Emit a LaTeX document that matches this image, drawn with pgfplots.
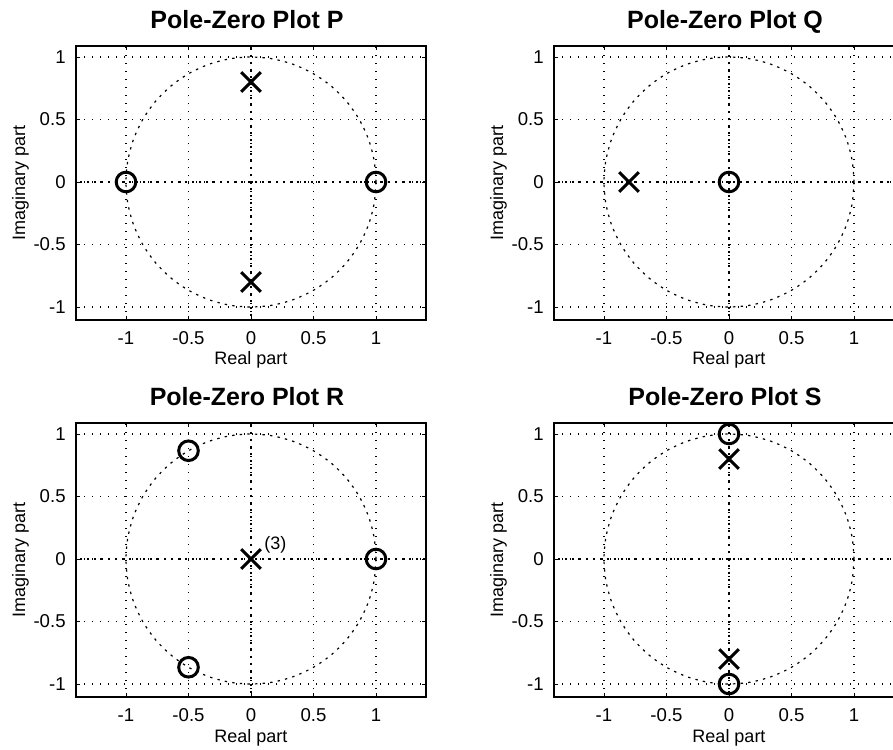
\documentclass[border=0pt]{standalone}
\usepackage{fontspec}
\setmainfont{Liberation Sans}
\usepackage{pgfplots}
\pgfplotsset{compat=1.18}
\usepackage{pgfplotstable}

\pgfplotstableread{
x y
1 0
0.9848 0.1736
0.9397 0.3420
0.8660 0.5000
0.7660 0.6428
0.6428 0.7660
0.5000 0.8660
0.3420 0.9397
0.1736 0.9848
0 1
-0.1736 0.9848
-0.3420 0.9397
-0.5000 0.8660
-0.6428 0.7660
-0.7660 0.6428
-0.8660 0.5000
-0.9397 0.3420
-0.9848 0.1736
-1 0
-0.9848 -0.1736
-0.9397 -0.3420
-0.8660 -0.5000
-0.7660 -0.6428
-0.6428 -0.7660
-0.5000 -0.8660
-0.3420 -0.9397
-0.1736 -0.9848
0 -1
0.1736 -0.9848
0.3420 -0.9397
0.5000 -0.8660
0.6428 -0.7660
0.7660 -0.6428
0.8660 -0.5000
0.9397 -0.3420
0.9848 -0.1736
1 0
}\unitcircle

\pgfplotsset{
  every axis title shift=0pt,
  pz/.style={
    scale only axis, width=175pt, height=137pt,
    xmin=-1.4, xmax=1.4, ymin=-1.104, ymax=1.088,
    xtick={-1,-0.5,0,0.5,1}, ytick={-1,-0.5,0,0.5,1},
    /pgf/number format/assume math mode=true,
    grid=major,
    major grid style={black, line width=0.6pt, dash pattern=on 0.5pt off 3.5pt},
    tick align=inside, major tick length=2pt,
    axis line style={line width=0.7pt},
    every tick/.style={black, line width=0.5pt},
    ticklabel style={font=\fontsize{9.3}{11}\selectfont},
    xticklabel style={anchor=base, yshift=-12.25pt},
    yticklabel style={anchor=east, inner sep=0pt, xshift=-5pt},
    label style={font=\fontsize{9}{11}\selectfont},
    xlabel={Real part}, ylabel={Imaginary part},
    xlabel style={at={(axis description cs:0.5,-0.1642)}, anchor=base},
    ylabel style={at={(axis description cs:-0.1457,0.5)}, anchor=base},
    title style={font=\bfseries\fontsize{12.5}{15}\selectfont,
      at={(axis description cs:0.4886,1.0657)}, anchor=base, yshift=0pt},
    clip=false,
  },
  ucirc/.style={black, line width=0.6pt, dash pattern=on 1.2pt off 2.6pt, smooth},
  axln/.style={black, line width=0.6pt, dash pattern=on 1pt off 2.5pt, dash phase=1.5pt},
  zero/.style={only marks, mark=o, mark size=4.9pt, line width=1.5pt, black},
  pole/.style={only marks, mark=x, mark size=6.9pt, line width=1.5pt, black},
}

\begin{document}
\begin{tikzpicture}
\path[use as bounding box, clip] (0pt,0pt) rectangle (446.5pt,-374.5pt);

% P
\begin{axis}[pz, at={(38pt,-160pt)}, anchor=south west, title={Pole-Zero Plot P}]
\addplot[ucirc] table {\unitcircle};
\addplot[axln] coordinates {(-1.4,0) (1.4,0)};
\addplot[axln] coordinates {(0,-1.104) (0,1.088)};
\addplot[zero] coordinates {(-1,0) (1,0)};
\addplot[pole] coordinates {(0,0.8) (0,-0.8)};
\end{axis}

% Q
\begin{axis}[pz, at={(277pt,-160pt)}, anchor=south west, title={Pole-Zero Plot Q}]
\addplot[ucirc] table {\unitcircle};
\addplot[axln] coordinates {(-1.4,0) (1.4,0)};
\addplot[axln] coordinates {(0,-1.104) (0,1.088)};
\addplot[zero] coordinates {(0,0)};
\addplot[pole] coordinates {(-0.8,0)};
\end{axis}

% R
\begin{axis}[pz, at={(38pt,-348.5pt)}, anchor=south west, title={Pole-Zero Plot R}]
\addplot[ucirc] table {\unitcircle};
\addplot[axln] coordinates {(-1.4,0) (1.4,0)};
\addplot[axln] coordinates {(0,-1.104) (0,1.088)};
\addplot[zero] coordinates {(1,0) (-0.5,0.866) (-0.5,-0.866)};
\addplot[pole] coordinates {(0,0)};
\node[anchor=west, inner sep=0pt, font=\fontsize{9}{11}\selectfont] at (axis cs:0.104,0.112) {(3)};
\end{axis}

% S
\begin{axis}[pz, at={(277pt,-348.5pt)}, anchor=south west, title={Pole-Zero Plot S}]
\addplot[ucirc] table {\unitcircle};
\addplot[axln] coordinates {(-1.4,0) (1.4,0)};
\addplot[axln] coordinates {(0,-1.104) (0,1.088)};
\addplot[zero] coordinates {(0,1) (0,-1)};
\addplot[pole] coordinates {(0,0.8) (0,-0.8)};
\end{axis}
\end{tikzpicture}
\end{document}
